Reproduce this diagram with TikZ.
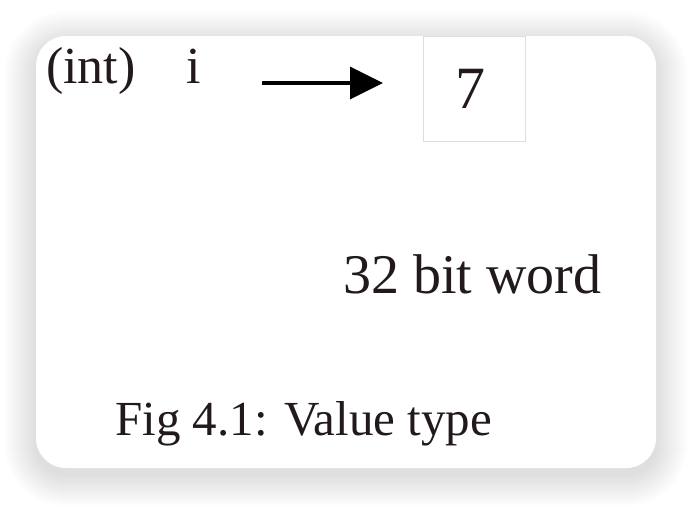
\documentclass[tikz,border=0pt]{standalone}
\usepackage{fontspec}
\setmainfont{Liberation Serif}
\usetikzlibrary{arrows.meta}
\definecolor{inkc}{HTML}{221A1A}
\definecolor{boxline}{HTML}{DDDDDD}
\tikzset{
  txt/.style={inner sep=0pt, text=inkc, anchor=base west},
  valbox/.style={draw=boxline, line width=1pt, inner sep=0pt, minimum width=102pt, minimum height=105pt, anchor=north west},
  ptr/.style={line width=3.5pt, -{Triangle[length=33pt,width=32pt]}, black}
}
\begin{document}
\begin{tikzpicture}[x=1pt,y=-1pt]
\useasboundingbox (0,0) rectangle (692,504);
\fill[white] (0,0) rectangle (692,504);
% soft shadow
\foreach \k in {1,...,32}{
  \fill[black, opacity=0.0045, rounded corners={30pt+\k pt}] (36-\k,36-\k+7) rectangle (656+\k,468+\k+7);
}
\fill[white, rounded corners=30pt] (36,36) rectangle (656,468);
\node[txt, font=\fontsize{52}{60}\selectfont] (int) at (46,83) {(int)};
\node[txt, font=\fontsize{52}{60}\selectfont] (i) at (186,83) {i};
\node[valbox] (val) at (423,36) {};
\node[inkc, font=\fontsize{60}{70}\selectfont, inner sep=0pt, anchor=base] (seven) at (470,108) {7};
\coordinate (a1) at (262,83);
\coordinate (a2) at (383,83);
\draw[ptr] (a1) -- (a2);
\node[txt, font=\fontsize{56}{66}\selectfont] (word) at (343,293) {32 bit word};
\node[txt, font=\fontsize{49}{58}\selectfont] (cap) at (115,435) {Fig 4.1: Value type};
\end{tikzpicture}
\end{document}
